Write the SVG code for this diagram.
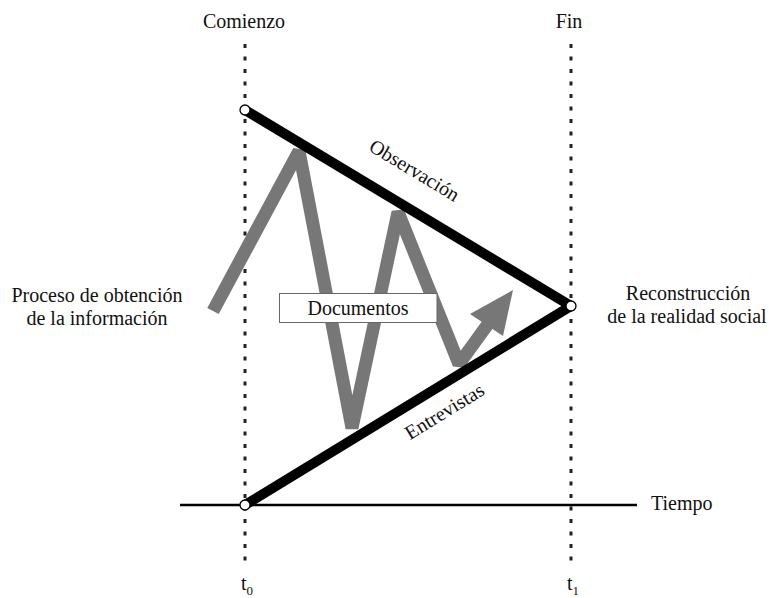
<svg xmlns="http://www.w3.org/2000/svg" width="769" height="598" viewBox="0 0 769 598">
<style>
.dot{stroke:#222;stroke-width:3;stroke-dasharray:4 8.5;fill:none}
.thick{stroke:#000;stroke-width:10;fill:none;stroke-linecap:round}
.pt{fill:#fff;stroke:#000;stroke-width:1.3}
.zig{stroke:#777;stroke-width:13;fill:none;stroke-linejoin:bevel}
</style>
<rect width="769" height="598" fill="#fff"/>
<g id="axes">
<line class="dot" x1="245" y1="44" x2="245" y2="568"/>
<line class="dot" x1="571" y1="44" x2="571" y2="568"/>
<line x1="180" y1="505" x2="637" y2="505" stroke="#000" stroke-width="2.6"/>
</g>
<g id="zigzag">
<polyline class="zig" points="213,311 299,151 352,428 398,212 459,364 488,324"/>
<polygon points="513,290 470,314 503,336" fill="#777"/>
</g>
<g id="connectors">
<line class="thick" x1="245" y1="110" x2="571" y2="306"/>
<line class="thick" x1="571" y1="306" x2="245" y2="505"/>
</g>
<g id="node-documentos" font-family="Liberation Serif, serif" font-size="20" fill="#111">
<rect x="279.5" y="293.5" width="157.5" height="29" fill="#fff" stroke="#666" stroke-width="1"/>
<text x="358" y="315" text-anchor="middle">Documentos</text>
</g>
<g id="points">
<circle class="pt" cx="245" cy="110" r="5"/>
<circle class="pt" cx="571" cy="306" r="5"/>
<circle class="pt" cx="245" cy="505" r="5"/>
</g>
<g id="labels" font-family="Liberation Serif, serif" font-size="20" fill="#111">
<text x="244" y="28" text-anchor="middle">Comienzo</text>
<text x="569" y="28" text-anchor="middle">Fin</text>
<text x="97" y="302" text-anchor="middle">Proceso de obtención</text>
<text x="97" y="325" text-anchor="middle">de la información</text>
<text x="688" y="300" text-anchor="middle">Reconstrucción</text>
<text x="687" y="323" text-anchor="middle">de la realidad social</text>
<text x="651" y="510">Tiempo</text>
<text transform="translate(411,176) rotate(31)" text-anchor="middle">Observación</text>
<text transform="translate(448,417) rotate(-31.5)" text-anchor="middle">Entrevistas</text>
<text x="241" y="590">t<tspan dy="5" font-size="13">0</tspan></text>
<text x="567" y="590">t<tspan dy="5" font-size="13">1</tspan></text>
</g>
</svg>
